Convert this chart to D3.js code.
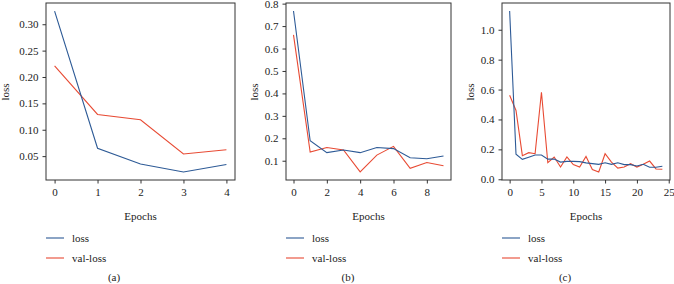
<!DOCTYPE html>
<html>
<head>
<meta charset="utf-8">
<script src="https://cdn.jsdelivr.net/npm/d3@7"></script>
<style>
  body { margin: 0; background: #fff; }
  svg { display: block; font-family: "Liberation Serif", "DejaVu Serif", serif; }
</style>
</head>
<body>
<svg width="674" height="284"></svg>
<script>
// panel (a) - 5 epochs
const lossA = [0.325, 0.065, 0.035, 0.020, 0.034];
const valA = [0.221, 0.129, 0.119, 0.054, 0.062];
const yTicksA = [0.05, 0.10, 0.15, 0.20, 0.25, 0.30];
const xTicksA = [0, 1, 2, 3, 4];

// panel (b) - 10 epochs
const lossB = [0.767, 0.189, 0.136, 0.148, 0.136, 0.159, 0.154, 0.113, 0.109, 0.121];
const valB = [0.661, 0.139, 0.159, 0.148, 0.050, 0.125, 0.164, 0.066, 0.092, 0.078];
const yTicksB = [0.1, 0.2, 0.3, 0.4, 0.5, 0.6, 0.7, 0.8];
const xTicksB = [0, 2, 4, 6, 8];

// panel (c) - 25 epochs
const lossC = [1.125, 0.168, 0.133, 0.147, 0.162, 0.162, 0.135, 0.135, 0.115, 0.12,
  0.12, 0.118, 0.11, 0.105, 0.10, 0.11, 0.10, 0.11, 0.098, 0.098,
  0.089, 0.10, 0.08, 0.08, 0.087];
const valC = [0.562, 0.46, 0.158, 0.178, 0.171, 0.582, 0.111, 0.149, 0.082, 0.149,
  0.098, 0.082, 0.153, 0.065, 0.049, 0.171, 0.115, 0.075, 0.082, 0.104,
  0.082, 0.10, 0.122, 0.069, 0.067];
const yTicksC = [0.0, 0.2, 0.4, 0.6, 0.8, 1.0];
const xTicksC = [0, 5, 10, 15, 20, 25];

const blue = "#2d5a96", red = "#e84a33", ink = "#222";
const svg = d3.select("svg");
const plotTop = 3, plotBottom = 180;

function panel(cfg) {
  const n = cfg.loss.length;
  const all = cfg.loss.concat(cfg.val);
  const lo = d3.min(all), hi = d3.max(all);
  const padY = (hi - lo) * 0.05, padX = (n - 1) * 0.05;

  const x = d3.scaleLinear().domain([-padX, n - 1 + padX]).range([cfg.left, cfg.right]);
  const y = d3.scaleLinear().domain([lo - padY, hi + padY]).range([plotBottom, plotTop]);

  const g = svg.append("g");

  const line = d3.line().x((d, i) => x(i)).y(d => y(d));
  g.append("path").attr("d", line(cfg.val)).attr("fill", "none")
    .attr("stroke", red).attr("stroke-width", 1.1);
  g.append("path").attr("d", line(cfg.loss)).attr("fill", "none")
    .attr("stroke", blue).attr("stroke-width", 1.1);

  // frame
  g.append("rect").attr("x", cfg.left).attr("y", plotTop)
    .attr("width", cfg.right - cfg.left).attr("height", plotBottom - plotTop)
    .attr("fill", "none").attr("stroke", "#333").attr("stroke-width", 1);

  const xAxis = d3.axisBottom(x).tickValues(cfg.xTicks).tickSize(3.5).tickPadding(5)
    .tickFormat(d3.format("d"));
  const yAxis = d3.axisLeft(y).tickValues(cfg.yTicks).tickSize(3.5).tickPadding(4)
    .tickFormat(d3.format(cfg.fmt));

  const gx = g.append("g").attr("transform", `translate(0,${plotBottom})`).call(xAxis);
  const gy = g.append("g").attr("transform", `translate(${cfg.left},0)`).call(yAxis);
  [gx, gy].forEach(a => {
    a.select(".domain").remove();
    a.selectAll("line").attr("stroke", "#333");
    a.selectAll("text").attr("fill", ink).style("font-size", "11px")
      .style("font-family", "'Liberation Serif', serif");
  });

  const cx = (cfg.left + cfg.right) / 2;
  g.append("text").attr("x", cx).attr("y", 220).attr("text-anchor", "middle")
    .attr("fill", ink).style("font-size", "11px").text("Epochs");

  g.append("text").attr("text-anchor", "middle")
    .attr("transform", `translate(${cfg.ylabX},92) rotate(-90)`)
    .attr("fill", ink).style("font-size", "11px").text("loss");

  // legend
  [["loss", blue, 238], ["val-loss", red, 258]].forEach(([name, col, ly]) => {
    g.append("line").attr("x1", cfg.left).attr("x2", cfg.left + 18)
      .attr("y1", ly).attr("y2", ly).attr("stroke", col).attr("stroke-width", 1.1);
    g.append("text").attr("x", cfg.left + 26).attr("y", ly + 3.5)
      .attr("fill", ink).style("font-size", "11px").text(name);
  });

  g.append("text").attr("x", cfg.capX).attr("y", 281).attr("text-anchor", "middle")
    .attr("fill", ink).style("font-size", "11px").text(cfg.cap);
}

panel({ loss: lossA, val: valA, yTicks: yTicksA, xTicks: xTicksA, fmt: ".2f",
  left: 46, right: 235, ylabX: 9, capX: 114, cap: "(a)" });
panel({ loss: lossB, val: valB, yTicks: yTicksB, xTicks: xTicksB, fmt: ".1f",
  left: 286, right: 451, ylabX: 258, capX: 348, cap: "(b)" });
panel({ loss: lossC, val: valC, yTicks: yTicksC, xTicks: xTicksC, fmt: ".1f",
  left: 502, right: 670, ylabX: 474, capX: 565, cap: "(c)" });
</script>
</body>
</html>
